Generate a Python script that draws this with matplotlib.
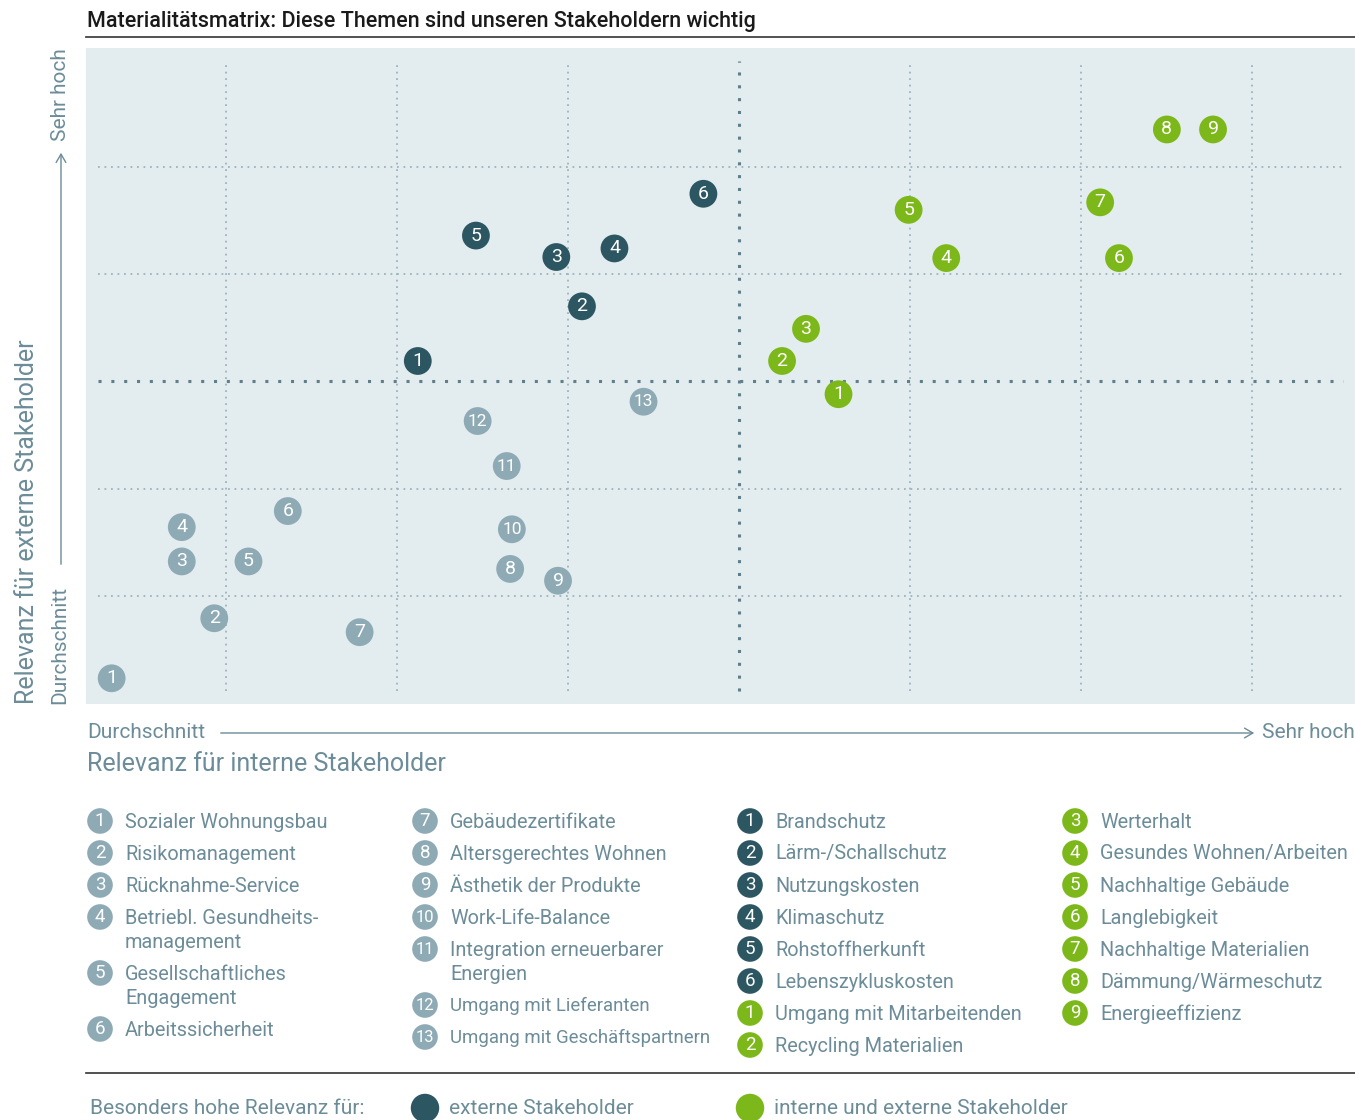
"""Materialitätsmatrix: Relevanz für interne vs. externe Stakeholder."""
import matplotlib

matplotlib.use("Agg")
import matplotlib.pyplot as plt  # noqa: E402

plt.rcParams["font.family"] = ["Roboto", "DejaVu Sans"]

# --- data (grid units: vertical dotted lines at x=1..7, horizontal at y=1..5)
grey_x = [0.33, 0.93, 0.74, 0.74, 1.13, 1.36, 1.78, 2.66, 2.94, 2.67, 2.64, 2.47, 3.44]
grey_y = [0.23, 0.79, 1.32, 1.64, 1.32, 1.79, 0.66, 1.25, 1.14, 1.62, 2.21, 2.63, 2.81]
grey_labels = [
    "Sozialer Wohnungsbau", "Risikomanagement", "Rücknahme-Service",
    "Betriebl. Gesundheits-\nmanagement", "Gesellschaftliches\nEngagement",
    "Arbeitssicherheit", "Gebäudezertifikate", "Altersgerechtes Wohnen",
    "Ästhetik der Produkte", "Work-Life-Balance",
    "Integration erneuerbarer\nEnergien", "Umgang mit Lieferanten",
    "Umgang mit Geschäftspartnern",
]
dark_x = [2.12, 3.08, 2.93, 3.27, 2.46, 3.79]
dark_y = [3.19, 3.70, 4.16, 4.24, 4.36, 4.75]
dark_labels = ["Brandschutz", "Lärm-/Schallschutz", "Nutzungskosten",
               "Klimaschutz", "Rohstoffherkunft", "Lebenszykluskosten"]
green_x = [4.58, 4.25, 4.39, 5.21, 4.99, 6.22, 6.11, 6.50, 6.77]
green_y = [2.88, 3.19, 3.49, 4.15, 4.60, 4.15, 4.67, 5.35, 5.35]
green_labels = ["Umgang mit Mitarbeitenden", "Recycling Materialien", "Werterhalt",
                "Gesundes Wohnen/Arbeiten", "Nachhaltige Gebäude", "Langlebigkeit",
                "Nachhaltige Materialien", "Dämmung/Wärmeschutz", "Energieeffizienz"]

GREY = "#8eaab5"
DARK = "#2c5661"
GREEN = "#7db81a"
TXT = "#6b8c98"
BG = "#e3ecef"

W, H = 1355, 1120
fig = plt.figure(figsize=(W / 100, H / 100), dpi=100)

# main matrix, placed in pixel terms
L, T, R, B = 86, 48, 1355, 704
ax = fig.add_axes([L / W, 1 - B / H, (R - L) / W, (B - T) / H])
ax.set_xlim(0.18, 7.60)
ax.set_ylim(-0.01, 6.11)
ax.set_facecolor(BG)
for s in ax.spines.values():
    s.set_visible(False)
ax.set_xticks([])
ax.set_yticks([])

# dotted grid, inset a little from the panel edges
for gx in range(1, 8):
    centre = gx == 4
    ax.plot([gx, gx], [0.11, 5.99], color="#5f808b" if centre else "#9db4bd",
            lw=2.2 if centre else 1.3, ls=(0, (1, 3.2)) if centre else (0, (1, 2.6)),
            zorder=1)
for gy in range(1, 6):
    centre = gy == 3
    ax.plot([0.25, 7.53], [gy, gy], color="#5f808b" if centre else "#9db4bd",
            lw=2.2 if centre else 1.3, ls=(0, (1, 3.2)) if centre else (0, (1, 2.6)),
            zorder=1)


def bubbles(xs, ys, color):
    ax.scatter(xs, ys, s=400, color=color, edgecolor="none", zorder=3)
    for i, (x, y) in enumerate(zip(xs, ys), start=1):
        ax.text(x, y, str(i), color="white", ha="center", va="center",
                fontsize=14 if i < 10 else 12.5, zorder=4)


bubbles(grey_x, grey_y, GREY)
bubbles(dark_x, dark_y, DARK)
bubbles(green_x, green_y, GREEN)

# overlay in pixel coordinates for titles, axis captions and legend
ov = fig.add_axes([0, 0, 1, 1])
ov.set_xlim(0, W)
ov.set_ylim(H, 0)
ov.axis("off")
ov.patch.set_alpha(0)

ov.text(87, 21, "Materialitätsmatrix: Diese Themen sind unseren Stakeholdern wichtig",
        fontsize=15.5, fontweight="medium", color="#1a1a1a", va="center", ha="left")
ov.plot([86, W], [37, 37], color="#444444", lw=1.3)

# y caption
ov.text(60, 48, "Sehr hoch", rotation=90, ha="center", va="top", fontsize=15, color=TXT)
ov.text(60, 704, "Durchschnitt", rotation=90, ha="center", va="bottom", fontsize=15, color=TXT)
ov.annotate("", xy=(61, 150), xytext=(61, 567),
            arrowprops=dict(arrowstyle="->,head_length=0.6,head_width=0.35",
                            color=TXT, lw=1.0))
ov.text(27, 704, "Relevanz für externe Stakeholder", rotation=90, ha="center",
        va="bottom", fontsize=18, color=TXT)

# x caption
ov.text(87, 733, "Durchschnitt", ha="left", va="center", fontsize=15, color=TXT)
ov.text(W, 733, "Sehr hoch", ha="right", va="center", fontsize=15, color=TXT)
ov.annotate("", xy=(1257, 733), xytext=(218, 733),
            arrowprops=dict(arrowstyle="->,head_length=0.6,head_width=0.35",
                            color=TXT, lw=1.0))
ov.text(87, 764, "Relevanz für interne Stakeholder", ha="left", va="center",
        fontsize=18, color=TXT)

# numbered legend, four columns
cols = [
    [(GREY, i + 1, grey_labels[i]) for i in range(0, 6)],
    [(GREY, i + 1, grey_labels[i]) for i in range(6, 13)],
    [(DARK, i + 1, dark_labels[i]) for i in range(6)]
    + [(GREEN, i + 1, green_labels[i]) for i in range(2)],
    [(GREEN, i + 1, green_labels[i]) for i in range(2, 9)],
]
col_x = [100, 425, 750, 1075]
for cx, items in zip(col_x, cols):
    y = 821
    for color, num, label in items:
        ov.scatter([cx], [y], s=340, color=color, edgecolor="none", zorder=3)
        ov.text(cx, y, str(num), color="white", ha="center", va="center",
                fontsize=13.5 if num < 10 else 12, zorder=4)
        lines = label.split("\n")
        # the last two items are set in a tighter face in the original
        tight = label.startswith("Umgang mit L") or label.startswith("Umgang mit G")
        fs = 13.4 if tight else 14.3
        for k, line in enumerate(lines):
            ov.text(cx + 25, y + 1 + 24 * k, line, ha="left", va="center",
                    fontsize=fs, color=TXT)
        y += 32 + 24 * (len(lines) - 1)

# bottom key
ov.plot([86, W], [1073, 1073], color="#333333", lw=1.2)
ov.text(90, 1108, "Besonders hohe Relevanz für:", ha="left", va="center",
        fontsize=15, color=TXT)
for cx, color, label in [(425, DARK, "externe Stakeholder"),
                         (750, GREEN, "interne und externe Stakeholder")]:
    ov.scatter([cx], [1108], s=420, color=color, edgecolor="none")
    ov.text(cx + 24, 1108, label, ha="left", va="center", fontsize=15, color=TXT)

fig.savefig("out.png", dpi=100)
